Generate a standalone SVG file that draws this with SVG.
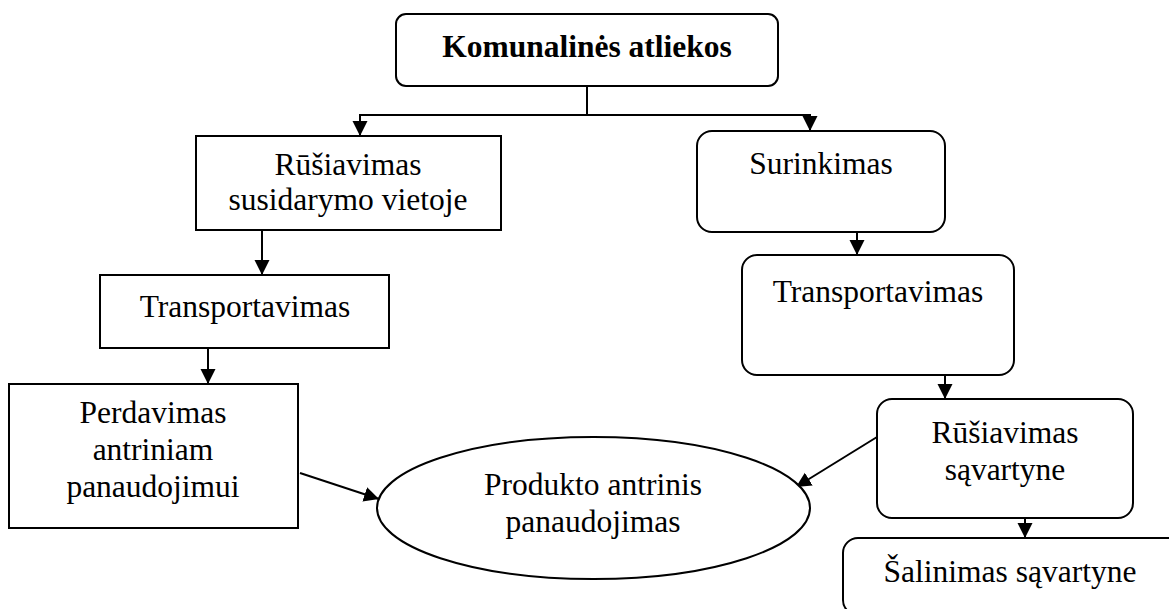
<svg xmlns="http://www.w3.org/2000/svg" width="1169" height="609" viewBox="0 0 1169 609">
  <style>
    .box { fill: #ffffff; stroke: #000000; stroke-width: 2; }
    .lbl { font-family: "Liberation Serif", "Times New Roman", serif; font-size: 31.5px; fill: #000000; text-anchor: middle; }
    .bold { font-weight: bold; }
    .conn { fill: none; stroke: #000000; stroke-width: 2; }
    .arrow { fill: none; stroke: #000000; stroke-width: 2; marker-end: url(#head); }
  </style>
  <defs>
    <marker id="head" markerUnits="userSpaceOnUse" markerWidth="16" markerHeight="16" refX="15" refY="7.5" orient="auto">
      <path d="M0,0 L15,7.5 L0,15 z" fill="#000000"/>
    </marker>
  </defs>

  <rect width="1169" height="609" fill="#ffffff"/>

  <!-- connectors -->
  <g id="connectors">
    <path class="conn" d="M587,86 V115"/>
    <path class="arrow" d="M587,115 H360 V136"/>
    <path class="arrow" d="M587,115 H810 V131"/>
    <path class="arrow" d="M262,230 V275"/>
    <path class="arrow" d="M208,348 V384"/>
    <path class="arrow" d="M300,473 L379,499"/>
    <path class="arrow" d="M857,232 V255"/>
    <path class="arrow" d="M945,375 V399"/>
    <path class="arrow" d="M877,437 L796,487"/>
    <path class="arrow" d="M1025,518 V538"/>
  </g>

  <!-- nodes -->
  <g id="komunalines-atliekos">
    <rect class="box" x="396" y="14" width="382" height="72" rx="10"/>
    <text class="lbl bold" x="587" y="57">Komunalinės atliekos</text>
  </g>

  <g id="rusiavimas-vietoje">
    <rect class="box" x="196" y="136" width="305" height="94"/>
    <text class="lbl" x="348" y="175">Rūšiavimas</text>
    <text class="lbl" x="348" y="210">susidarymo vietoje</text>
  </g>

  <g id="transportavimas-kairė">
    <rect class="box" x="100" y="275" width="289" height="73"/>
    <text class="lbl" x="245" y="317">Transportavimas</text>
  </g>

  <g id="perdavimas">
    <rect class="box" x="9" y="384" width="289" height="144"/>
    <text class="lbl" x="153" y="423">Perdavimas</text>
    <text class="lbl" x="153" y="460">antriniam</text>
    <text class="lbl" x="153" y="497">panaudojimui</text>
  </g>

  <g id="produkto-antrinis">
    <ellipse class="box" cx="593.5" cy="508" rx="216.5" ry="71"/>
    <text class="lbl" x="593" y="495">Produkto antrinis</text>
    <text class="lbl" x="593" y="532">panaudojimas</text>
  </g>

  <g id="surinkimas">
    <rect class="box" x="697" y="131" width="248" height="101" rx="15"/>
    <text class="lbl" x="821" y="174">Surinkimas</text>
  </g>

  <g id="transportavimas-dešinė">
    <rect class="box" x="742" y="255" width="272" height="120" rx="15"/>
    <text class="lbl" x="878" y="302">Transportavimas</text>
  </g>

  <g id="rusiavimas-savartyne">
    <rect class="box" x="877" y="399" width="256" height="119" rx="15"/>
    <text class="lbl" x="1005" y="443">Rūšiavimas</text>
    <text class="lbl" x="1005" y="480">sąvartyne</text>
  </g>

  <g id="salinimas-savartyne">
    <rect class="box" x="843" y="538" width="360" height="77" rx="15"/>
    <text class="lbl" x="1010" y="582">Šalinimas sąvartyne</text>
  </g>
</svg>
